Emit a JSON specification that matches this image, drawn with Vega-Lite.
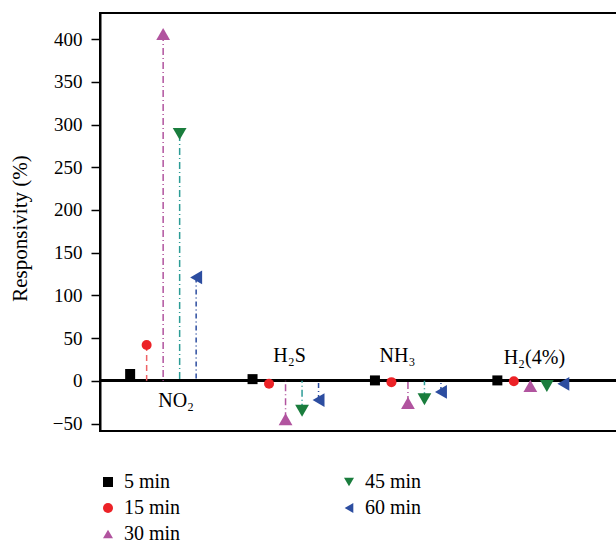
{
  "$schema": "https://vega.github.io/schema/vega-lite/v6.json",
  "autosize": {"type": "none"},
  "padding": {"left": 100, "top": 13, "right": 0, "bottom": 116},
  "width": 530,
  "height": 418,
  "background": "white",
  "config": {
    "view": {"stroke": "black", "strokeWidth": 2},
    "font": "Liberation Serif"
  },
  "data": {
    "values": [
      {"gas": "NO₂", "time": "5 min", "value": 8},
      {"gas": "NO₂", "time": "15 min", "value": 42},
      {"gas": "NO₂", "time": "30 min", "value": 406},
      {"gas": "NO₂", "time": "45 min", "value": 289},
      {"gas": "NO₂", "time": "60 min", "value": 121},
      {"gas": "H₂S", "time": "5 min", "value": 2},
      {"gas": "H₂S", "time": "15 min", "value": -3.5},
      {"gas": "H₂S", "time": "30 min", "value": -45},
      {"gas": "H₂S", "time": "45 min", "value": -35},
      {"gas": "H₂S", "time": "60 min", "value": -22.5},
      {"gas": "NH₃", "time": "5 min", "value": 0.5},
      {"gas": "NH₃", "time": "15 min", "value": -1.5},
      {"gas": "NH₃", "time": "30 min", "value": -26},
      {"gas": "NH₃", "time": "45 min", "value": -21.5},
      {"gas": "NH₃", "time": "60 min", "value": -13},
      {"gas": "H₂(4%)", "time": "5 min", "value": 0.5},
      {"gas": "H₂(4%)", "time": "15 min", "value": -0.5},
      {"gas": "H₂(4%)", "time": "30 min", "value": -6},
      {"gas": "H₂(4%)", "time": "45 min", "value": -6},
      {"gas": "H₂(4%)", "time": "60 min", "value": -3.5}
    ]
  },
  "layer": [
    {
      "mark": {"type": "rule", "color": "black", "strokeWidth": 2},
      "encoding": {
        "y": {
          "datum": 0,
          "type": "quantitative",
          "scale": {"domain": [-58.7, 430.5], "nice": false, "zero": false},
          "axis": {
            "title": "Responsivity (%)",
            "values": [-50, -25, 0, 25, 50, 75, 100, 125, 150, 175, 200, 225, 250, 275, 300, 325, 350, 375, 400, 425],
            "labelExpr": "datum.value % 50 === 0 ? datum.label : ''",
            "tickSize": {"condition": {"test": "datum.value % 50 === 0", "value": 9}, "value": 5},
            "tickColor": "black",
            "tickWidth": 1.5,
            "domainColor": "black",
            "domainWidth": 2,
            "grid": false,
            "labelFont": "Liberation Serif",
            "labelFontSize": 19,
            "labelColor": "black",
            "labelPadding": 9,
            "titleFont": "Liberation Serif",
            "titleFontSize": 21,
            "titleFontWeight": "normal",
            "titleColor": "black",
            "titleAngle": -90,
            "titleAlign": "center",
            "titleBaseline": "middle",
            "titleX": -80,
            "titleY": 215
          }
        }
      }
    },
    {
      "transform": [{"filter": "datum.time !== '5 min'"}],
      "mark": {"type": "rule", "strokeWidth": 1.5},
      "encoding": {
        "x": {"field": "gas", "type": "nominal", "axis": null, "sort": null,
          "scale": {"domain": ["NO₂", "H₂S", "NH₃", "H₂(4%)"], "paddingInner": 0.326, "paddingOuter": 0.328, "align": 0.2727}},
        "xOffset": {"field": "time", "type": "nominal",
          "scale": {"domain": ["5 min", "15 min", "30 min", "45 min", "60 min"], "paddingInner": 0, "paddingOuter": 0}},
        "y": {"field": "value", "type": "quantitative"},
        "y2": {"datum": 0},
        "stroke": {"field": "time", "type": "nominal", "legend": null,
          "scale": {"domain": ["15 min", "30 min", "45 min", "60 min"], "range": ["#ee6266", "#b1549f", "#2c9c96", "#2c4da0"]}},
        "strokeDash": {"field": "time", "type": "nominal", "legend": null,
          "scale": {"domain": ["15 min", "30 min", "45 min", "60 min"], "range": [[6, 4], [7, 3, 1, 3], [7, 3, 1, 3], [5, 3, 1, 3]]}}
      }
    },
    {
      "transform": [{"filter": "datum.time === '5 min' || datum.time === '15 min'"}],
      "mark": {"type": "point", "filled": true, "opacity": 1, "size": 100},
      "encoding": {
        "x": {"field": "gas", "type": "nominal", "sort": null},
        "xOffset": {"field": "time", "type": "nominal"},
        "y": {"field": "value", "type": "quantitative"},
        "color": {"field": "time", "type": "nominal",
          "scale": {"domain": ["5 min", "15 min", "30 min", "45 min", "60 min"], "range": ["#000000", "#ec2227", "#b1549f", "#1a7d3d", "#2c4da0"]},
          "legend": {"title": null, "orient": "none", "legendX": -2, "legendY": 459, "columns": 2, "padding": 0,
            "rowPadding": 6, "columnPadding": 158, "labelOffset": 6, "symbolSize": 100, "symbolStrokeWidth": 0,
            "labelFont": "Liberation Serif", "labelFontSize": 20, "labelColor": "black"}},
        "shape": {"field": "time", "type": "nominal",
          "scale": {"domain": ["5 min", "15 min", "30 min", "45 min", "60 min"], "range": ["square", "circle", "triangle-up", "triangle-down", "triangle-left"]},
          "legend": {"title": null, "orient": "none", "legendX": -2, "legendY": 459, "columns": 2, "padding": 0,
            "rowPadding": 6, "columnPadding": 158, "labelOffset": 6, "symbolSize": 100, "symbolStrokeWidth": 0,
            "labelFont": "Liberation Serif", "labelFontSize": 20, "labelColor": "black"}}
      }
    },
    {
      "transform": [{"filter": "datum.time !== '5 min' && datum.time !== '15 min'"}],
      "mark": {"type": "point", "filled": true, "opacity": 1, "size": 190},
      "encoding": {
        "x": {"field": "gas", "type": "nominal", "sort": null},
        "xOffset": {"field": "time", "type": "nominal"},
        "y": {"field": "value", "type": "quantitative"},
        "color": {"field": "time", "type": "nominal"},
        "shape": {"field": "time", "type": "nominal"}
      }
    },
    {
      "transform": [{"filter": "datum.time === '5 min' && datum.gas === 'NO₂'"}],
      "mark": {"type": "text", "fontSize": 20, "font": "Liberation Serif", "color": "black", "baseline": "alphabetic", "align": "center", "dx": 13},
      "encoding": {
        "x": {"field": "gas", "type": "nominal", "sort": null},
        "y": {"datum": -31},
        "text": {"field": "gas"}
      }
    },
    {
      "transform": [{"filter": "datum.time === '5 min' && datum.gas === 'H₂S'"}],
      "mark": {"type": "text", "fontSize": 20, "font": "Liberation Serif", "color": "black", "baseline": "alphabetic", "align": "center", "dx": 4},
      "encoding": {
        "x": {"field": "gas", "type": "nominal", "sort": null},
        "y": {"datum": 22.5},
        "text": {"field": "gas"}
      }
    },
    {
      "transform": [{"filter": "datum.time === '5 min' && datum.gas === 'NH₃'"}],
      "mark": {"type": "text", "fontSize": 20, "font": "Liberation Serif", "color": "black", "baseline": "alphabetic", "align": "center", "dx": -10.5},
      "encoding": {
        "x": {"field": "gas", "type": "nominal", "sort": null},
        "y": {"datum": 22},
        "text": {"field": "gas"}
      }
    },
    {
      "transform": [{"filter": "datum.time === '5 min' && datum.gas === 'H₂(4%)'"}],
      "mark": {"type": "text", "fontSize": 20, "font": "Liberation Serif", "color": "black", "baseline": "alphabetic", "align": "center", "dx": 4},
      "encoding": {
        "x": {"field": "gas", "type": "nominal", "sort": null},
        "y": {"datum": 20},
        "text": {"field": "gas"}
      }
    }
  ]
}
